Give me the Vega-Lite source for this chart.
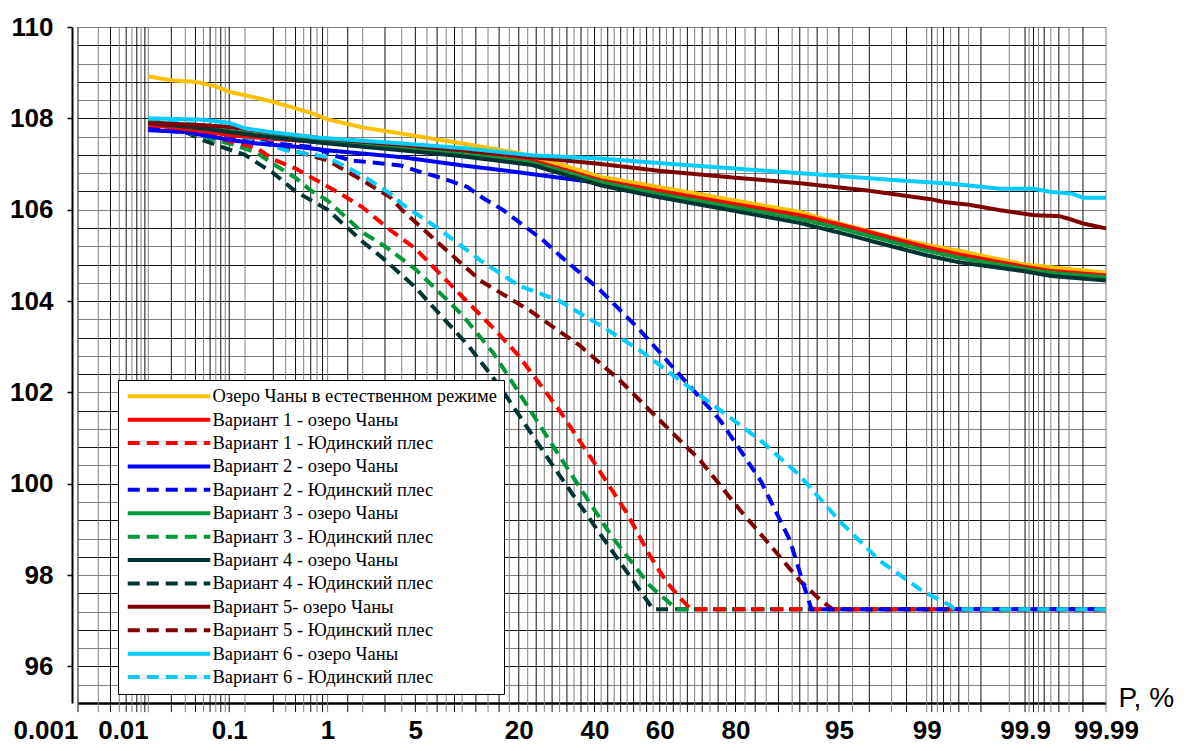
{
  "$schema": "https://vega.github.io/schema/vega-lite/v6.json",
  "width": 1028,
  "height": 676,
  "autosize": {"type": "none"},
  "padding": {"left": 78, "top": 27, "right": 81, "bottom": 48},
  "config": {"view": {"stroke": null}, "font": "Liberation Sans"},
  "datasets": {
    "gridDark": [
      {"P": 0.001}, {"P": 0.003}, {"P": 0.005}, {"P": 0.007}, {"P": 0.009},
      {"P": 0.02}, {"P": 0.04}, {"P": 0.06}, {"P": 0.08}, {"P": 0.1},
      {"P": 0.3}, {"P": 0.5}, {"P": 0.7}, {"P": 0.9}, {"P": 1.5}, {"P": 3}, {"P": 5}, {"P": 7}, {"P": 9},
      {"P": 12}, {"P": 16}, {"P": 20}, {"P": 24}, {"P": 28}, {"P": 32}, {"P": 36}, {"P": 40}, {"P": 44}, {"P": 48},
      {"P": 52}, {"P": 56}, {"P": 60}, {"P": 64}, {"P": 68}, {"P": 72}, {"P": 76}, {"P": 80}, {"P": 84}, {"P": 88},
      {"P": 91}, {"P": 93}, {"P": 95}, {"P": 97}, {"P": 98.5},
      {"P": 99.1}, {"P": 99.3}, {"P": 99.5}, {"P": 99.7}, {"P": 99.9},
      {"P": 99.92}, {"P": 99.94}, {"P": 99.96}, {"P": 99.98}
    ],
    "gridLight": [
      {"P": 0.002}, {"P": 0.004}, {"P": 0.006}, {"P": 0.008}, {"P": 0.01},
      {"P": 0.03}, {"P": 0.05}, {"P": 0.07}, {"P": 0.09}, {"P": 0.15},
      {"P": 0.4}, {"P": 0.6}, {"P": 0.8}, {"P": 1}, {"P": 2}, {"P": 4}, {"P": 6}, {"P": 8}, {"P": 10},
      {"P": 14}, {"P": 18}, {"P": 22}, {"P": 26}, {"P": 30}, {"P": 34}, {"P": 38}, {"P": 42}, {"P": 46}, {"P": 50},
      {"P": 54}, {"P": 58}, {"P": 62}, {"P": 66}, {"P": 70}, {"P": 74}, {"P": 78}, {"P": 82}, {"P": 86}, {"P": 90},
      {"P": 92}, {"P": 94}, {"P": 96}, {"P": 98}, {"P": 99},
      {"P": 99.2}, {"P": 99.4}, {"P": 99.6}, {"P": 99.85},
      {"P": 99.91}, {"P": 99.93}, {"P": 99.95}, {"P": 99.97}, {"P": 99.99}
    ],
    "levels": [
      {"s": "Вариант 4 - Юдинский плес", "P": 0.01, "H": 107.85},
      {"s": "Вариант 4 - Юдинский плес", "P": 0.03, "H": 107.7},
      {"s": "Вариант 4 - Юдинский плес", "P": 0.05, "H": 107.52},
      {"s": "Вариант 4 - Юдинский плес", "P": 0.08, "H": 107.38},
      {"s": "Вариант 4 - Юдинский плес", "P": 0.15, "H": 107.2},
      {"s": "Вариант 4 - Юдинский плес", "P": 0.3, "H": 106.8},
      {"s": "Вариант 4 - Юдинский плес", "P": 0.5, "H": 106.4},
      {"s": "Вариант 4 - Юдинский плес", "P": 1, "H": 106.0},
      {"s": "Вариант 4 - Юдинский плес", "P": 2, "H": 105.3},
      {"s": "Вариант 4 - Юдинский плес", "P": 3, "H": 104.9},
      {"s": "Вариант 4 - Юдинский плес", "P": 5, "H": 104.3},
      {"s": "Вариант 4 - Юдинский плес", "P": 11, "H": 103.0},
      {"s": "Вариант 4 - Юдинский плес", "P": 16, "H": 102.15},
      {"s": "Вариант 4 - Юдинский плес", "P": 29, "H": 100.3},
      {"s": "Вариант 4 - Юдинский плес", "P": 42, "H": 98.87},
      {"s": "Вариант 4 - Юдинский плес", "P": 54, "H": 97.66},
      {"s": "Вариант 4 - Юдинский плес", "P": 58, "H": 97.25},
      {"s": "Вариант 4 - Юдинский плес", "P": 99.99, "H": 97.25},

      {"s": "Вариант 3 - Юдинский плес", "P": 0.01, "H": 107.9},
      {"s": "Вариант 3 - Юдинский плес", "P": 0.05, "H": 107.6},
      {"s": "Вариант 3 - Юдинский плес", "P": 0.1, "H": 107.45},
      {"s": "Вариант 3 - Юдинский плес", "P": 0.2, "H": 107.25},
      {"s": "Вариант 3 - Юдинский плес", "P": 0.3, "H": 107.0},
      {"s": "Вариант 3 - Юдинский плес", "P": 0.5, "H": 106.7},
      {"s": "Вариант 3 - Юдинский плес", "P": 0.7, "H": 106.42},
      {"s": "Вариант 3 - Юдинский плес", "P": 1, "H": 106.2},
      {"s": "Вариант 3 - Юдинский плес", "P": 2, "H": 105.5},
      {"s": "Вариант 3 - Юдинский плес", "P": 3, "H": 105.2},
      {"s": "Вариант 3 - Юдинский плес", "P": 5, "H": 104.7},
      {"s": "Вариант 3 - Юдинский плес", "P": 10, "H": 103.7},
      {"s": "Вариант 3 - Юдинский плес", "P": 15, "H": 102.85},
      {"s": "Вариант 3 - Юдинский плес", "P": 20, "H": 102.0},
      {"s": "Вариант 3 - Юдинский плес", "P": 30, "H": 100.6},
      {"s": "Вариант 3 - Юдинский плес", "P": 45, "H": 98.87},
      {"s": "Вариант 3 - Юдинский плес", "P": 57, "H": 97.77},
      {"s": "Вариант 3 - Юдинский плес", "P": 62, "H": 97.45},
      {"s": "Вариант 3 - Юдинский плес", "P": 65, "H": 97.25},
      {"s": "Вариант 3 - Юдинский плес", "P": 99.99, "H": 97.25},

      {"s": "Вариант 1 - Юдинский плес", "P": 0.01, "H": 107.85},
      {"s": "Вариант 1 - Юдинский плес", "P": 0.05, "H": 107.68},
      {"s": "Вариант 1 - Юдинский плес", "P": 0.1, "H": 107.5},
      {"s": "Вариант 1 - Юдинский плес", "P": 0.2, "H": 107.35},
      {"s": "Вариант 1 - Юдинский плес", "P": 0.3, "H": 107.1},
      {"s": "Вариант 1 - Юдинский плес", "P": 0.5, "H": 106.9},
      {"s": "Вариант 1 - Юдинский плес", "P": 0.8, "H": 106.64},
      {"s": "Вариант 1 - Юдинский плес", "P": 1.3, "H": 106.35},
      {"s": "Вариант 1 - Юдинский плес", "P": 2, "H": 106.05},
      {"s": "Вариант 1 - Юдинский плес", "P": 3.3, "H": 105.55},
      {"s": "Вариант 1 - Юдинский плес", "P": 5, "H": 105.15},
      {"s": "Вариант 1 - Юдинский плес", "P": 10, "H": 104.1},
      {"s": "Вариант 1 - Юдинский плес", "P": 15, "H": 103.4},
      {"s": "Вариант 1 - Юдинский плес", "P": 20, "H": 102.8},
      {"s": "Вариант 1 - Юдинский плес", "P": 30, "H": 101.6},
      {"s": "Вариант 1 - Юдинский плес", "P": 40, "H": 100.45},
      {"s": "Вариант 1 - Юдинский плес", "P": 50, "H": 99.35},
      {"s": "Вариант 1 - Юдинский плес", "P": 57, "H": 98.43},
      {"s": "Вариант 1 - Юдинский плес", "P": 62, "H": 97.85},
      {"s": "Вариант 1 - Юдинский плес", "P": 66, "H": 97.5},
      {"s": "Вариант 1 - Юдинский плес", "P": 69, "H": 97.25},
      {"s": "Вариант 1 - Юдинский плес", "P": 99.99, "H": 97.25},

      {"s": "Вариант 5 - Юдинский плес", "P": 0.01, "H": 107.85},
      {"s": "Вариант 5 - Юдинский плес", "P": 0.1, "H": 107.65},
      {"s": "Вариант 5 - Юдинский плес", "P": 0.2, "H": 107.6},
      {"s": "Вариант 5 - Юдинский плес", "P": 0.3, "H": 107.4},
      {"s": "Вариант 5 - Юдинский плес", "P": 0.5, "H": 107.28},
      {"s": "Вариант 5 - Юдинский плес", "P": 1, "H": 107.08},
      {"s": "Вариант 5 - Юдинский плес", "P": 2, "H": 106.64},
      {"s": "Вариант 5 - Юдинский плес", "P": 3.3, "H": 106.27},
      {"s": "Вариант 5 - Юдинский плес", "P": 4, "H": 106.0},
      {"s": "Вариант 5 - Юдинский плес", "P": 7, "H": 105.3},
      {"s": "Вариант 5 - Юдинский плес", "P": 12.7, "H": 104.45},
      {"s": "Вариант 5 - Юдинский плес", "P": 22.5, "H": 103.79},
      {"s": "Вариант 5 - Юдинский плес", "P": 35.6, "H": 103.03},
      {"s": "Вариант 5 - Юдинский плес", "P": 47.8, "H": 102.26},
      {"s": "Вариант 5 - Юдинский плес", "P": 60, "H": 101.39},
      {"s": "Вариант 5 - Юдинский плес", "P": 71.5, "H": 100.51},
      {"s": "Вариант 5 - Юдинский плес", "P": 81, "H": 99.42},
      {"s": "Вариант 5 - Юдинский плес", "P": 86.7, "H": 98.65},
      {"s": "Вариант 5 - Юдинский плес", "P": 91, "H": 97.88},
      {"s": "Вариант 5 - Юдинский плес", "P": 93.4, "H": 97.44},
      {"s": "Вариант 5 - Юдинский плес", "P": 94.5, "H": 97.25},
      {"s": "Вариант 5 - Юдинский плес", "P": 99.99, "H": 97.25},

      {"s": "Вариант 2 - Юдинский плес", "P": 0.01, "H": 107.78},
      {"s": "Вариант 2 - Юдинский плес", "P": 0.05, "H": 107.65},
      {"s": "Вариант 2 - Юдинский плес", "P": 0.1, "H": 107.55},
      {"s": "Вариант 2 - Юдинский плес", "P": 0.3, "H": 107.45},
      {"s": "Вариант 2 - Юдинский плес", "P": 0.74, "H": 107.37},
      {"s": "Вариант 2 - Юдинский плес", "P": 1.13, "H": 107.19},
      {"s": "Вариант 2 - Юдинский плес", "P": 1.6, "H": 107.08},
      {"s": "Вариант 2 - Юдинский плес", "P": 3.9, "H": 106.97},
      {"s": "Вариант 2 - Юдинский плес", "P": 5.4, "H": 106.83},
      {"s": "Вариант 2 - Юдинский плес", "P": 7.7, "H": 106.68},
      {"s": "Вариант 2 - Юдинский плес", "P": 10.7, "H": 106.5},
      {"s": "Вариант 2 - Юдинский плес", "P": 13.2, "H": 106.25},
      {"s": "Вариант 2 - Юдинский плес", "P": 16.8, "H": 105.99},
      {"s": "Вариант 2 - Юдинский плес", "P": 21, "H": 105.66},
      {"s": "Вариант 2 - Юдинский плес", "P": 25.7, "H": 105.33},
      {"s": "Вариант 2 - Юдинский плес", "P": 30, "H": 105.0},
      {"s": "Вариант 2 - Юдинский плес", "P": 41.7, "H": 104.24},
      {"s": "Вариант 2 - Юдинский плес", "P": 54, "H": 103.36},
      {"s": "Вариант 2 - Юдинский плес", "P": 66, "H": 102.37},
      {"s": "Вариант 2 - Юдинский плес", "P": 76.5, "H": 101.39},
      {"s": "Вариант 2 - Юдинский плес", "P": 85, "H": 100.07},
      {"s": "Вариант 2 - Юдинский плес", "P": 89.7, "H": 98.76},
      {"s": "Вариант 2 - Юдинский плес", "P": 91.7, "H": 97.66},
      {"s": "Вариант 2 - Юдинский плес", "P": 92.4, "H": 97.25},
      {"s": "Вариант 2 - Юдинский плес", "P": 99.99, "H": 97.25},

      {"s": "Вариант 6 - Юдинский плес", "P": 0.01, "H": 107.95},
      {"s": "Вариант 6 - Юдинский плес", "P": 0.05, "H": 107.85},
      {"s": "Вариант 6 - Юдинский плес", "P": 0.08, "H": 107.78},
      {"s": "Вариант 6 - Юдинский плес", "P": 0.11, "H": 107.67},
      {"s": "Вариант 6 - Юдинский плес", "P": 0.15, "H": 107.59},
      {"s": "Вариант 6 - Юдинский плес", "P": 0.4, "H": 107.3},
      {"s": "Вариант 6 - Юдинский плес", "P": 1, "H": 107.15},
      {"s": "Вариант 6 - Юдинский плес", "P": 1.3, "H": 107.0},
      {"s": "Вариант 6 - Юдинский плес", "P": 2, "H": 106.75},
      {"s": "Вариант 6 - Юдинский плес", "P": 3.3, "H": 106.35},
      {"s": "Вариант 6 - Юдинский плес", "P": 4, "H": 106.13},
      {"s": "Вариант 6 - Юдинский плес", "P": 7.4, "H": 105.55},
      {"s": "Вариант 6 - Юдинский плес", "P": 12.7, "H": 104.89},
      {"s": "Вариант 6 - Юдинский плес", "P": 20, "H": 104.34},
      {"s": "Вариант 6 - Юдинский плес", "P": 30, "H": 104.0},
      {"s": "Вариант 6 - Юдинский плес", "P": 41.7, "H": 103.47},
      {"s": "Вариант 6 - Юдинский плес", "P": 54, "H": 102.92},
      {"s": "Вариант 6 - Юдинский плес", "P": 66, "H": 102.26},
      {"s": "Вариант 6 - Юдинский плес", "P": 76.5, "H": 101.61},
      {"s": "Вариант 6 - Юдинский плес", "P": 85, "H": 100.95},
      {"s": "Вариант 6 - Юдинский плес", "P": 91, "H": 100.18},
      {"s": "Вариант 6 - Юдинский плес", "P": 95, "H": 99.2},
      {"s": "Вариант 6 - Юдинский плес", "P": 97.5, "H": 98.32},
      {"s": "Вариант 6 - Юдинский плес", "P": 98.9, "H": 97.66},
      {"s": "Вариант 6 - Юдинский плес", "P": 99.4, "H": 97.33},
      {"s": "Вариант 6 - Юдинский плес", "P": 99.45, "H": 97.25},
      {"s": "Вариант 6 - Юдинский плес", "P": 99.99, "H": 97.25},

      {"s": "Озеро Чаны в естественном режиме", "P": 0.01, "H": 108.92},
      {"s": "Озеро Чаны в естественном режиме", "P": 0.02, "H": 108.83},
      {"s": "Озеро Чаны в естественном режиме", "P": 0.04, "H": 108.8},
      {"s": "Озеро Чаны в естественном режиме", "P": 0.07, "H": 108.7},
      {"s": "Озеро Чаны в естественном режиме", "P": 0.1, "H": 108.58},
      {"s": "Озеро Чаны в естественном режиме", "P": 0.2, "H": 108.45},
      {"s": "Озеро Чаны в естественном режиме", "P": 0.3, "H": 108.36},
      {"s": "Озеро Чаны в естественном режиме", "P": 0.5, "H": 108.22},
      {"s": "Озеро Чаны в естественном режиме", "P": 0.7, "H": 108.12},
      {"s": "Озеро Чаны в естественном режиме", "P": 1, "H": 107.98},
      {"s": "Озеро Чаны в естественном режиме", "P": 2, "H": 107.8},
      {"s": "Озеро Чаны в естественном режиме", "P": 3.9, "H": 107.67},
      {"s": "Озеро Чаны в естественном режиме", "P": 10, "H": 107.45},
      {"s": "Озеро Чаны в естественном режиме", "P": 20, "H": 107.24},
      {"s": "Озеро Чаны в естественном режиме", "P": 30, "H": 107.0},
      {"s": "Озеро Чаны в естественном режиме", "P": 41.7, "H": 106.72},
      {"s": "Озеро Чаны в естественном режиме", "P": 50, "H": 106.62},
      {"s": "Озеро Чаны в естественном режиме", "P": 60, "H": 106.49},
      {"s": "Озеро Чаны в естественном режиме", "P": 70, "H": 106.36},
      {"s": "Озеро Чаны в естественном режиме", "P": 80, "H": 106.2},
      {"s": "Озеро Чаны в естественном режиме", "P": 91, "H": 105.95},
      {"s": "Озеро Чаны в естественном режиме", "P": 95, "H": 105.7},
      {"s": "Озеро Чаны в естественном режиме", "P": 98, "H": 105.4},
      {"s": "Озеро Чаны в естественном режиме", "P": 99, "H": 105.23},
      {"s": "Озеро Чаны в естественном режиме", "P": 99.5, "H": 105.1},
      {"s": "Озеро Чаны в естественном режиме", "P": 99.9, "H": 104.8},
      {"s": "Озеро Чаны в естественном режиме", "P": 99.99, "H": 104.62},

      {"s": "Вариант 2 - озеро Чаны", "P": 0.01, "H": 107.74},
      {"s": "Вариант 2 - озеро Чаны", "P": 0.03, "H": 107.7},
      {"s": "Вариант 2 - озеро Чаны", "P": 0.05, "H": 107.63},
      {"s": "Вариант 2 - озеро Чаны", "P": 0.1, "H": 107.53},
      {"s": "Вариант 2 - озеро Чаны", "P": 0.2, "H": 107.45},
      {"s": "Вариант 2 - озеро Чаны", "P": 0.5, "H": 107.38},
      {"s": "Вариант 2 - озеро Чаны", "P": 1, "H": 107.3},
      {"s": "Вариант 2 - озеро Чаны", "P": 4, "H": 107.15},
      {"s": "Вариант 2 - озеро Чаны", "P": 10, "H": 106.97},
      {"s": "Вариант 2 - озеро Чаны", "P": 17, "H": 106.86},
      {"s": "Вариант 2 - озеро Чаны", "P": 42, "H": 106.58},
      {"s": "Вариант 2 - озеро Чаны", "P": 60, "H": 106.36},
      {"s": "Вариант 2 - озеро Чаны", "P": 80, "H": 106.08},
      {"s": "Вариант 2 - озеро Чаны", "P": 91, "H": 105.85},
      {"s": "Вариант 2 - озеро Чаны", "P": 95, "H": 105.66},
      {"s": "Вариант 2 - озеро Чаны", "P": 98, "H": 105.35},
      {"s": "Вариант 2 - озеро Чаны", "P": 99, "H": 105.12},
      {"s": "Вариант 2 - озеро Чаны", "P": 99.5, "H": 104.97},
      {"s": "Вариант 2 - озеро Чаны", "P": 99.9, "H": 104.7},
      {"s": "Вариант 2 - озеро Чаны", "P": 99.95, "H": 104.6},
      {"s": "Вариант 2 - озеро Чаны", "P": 99.99, "H": 104.48},

      {"s": "Вариант 1 - озеро Чаны", "P": 0.01, "H": 107.86},
      {"s": "Вариант 1 - озеро Чаны", "P": 0.05, "H": 107.72},
      {"s": "Вариант 1 - озеро Чаны", "P": 0.1, "H": 107.63},
      {"s": "Вариант 1 - озеро Чаны", "P": 0.3, "H": 107.55},
      {"s": "Вариант 1 - озеро Чаны", "P": 1, "H": 107.47},
      {"s": "Вариант 1 - озеро Чаны", "P": 4, "H": 107.38},
      {"s": "Вариант 1 - озеро Чаны", "P": 10, "H": 107.28},
      {"s": "Вариант 1 - озеро Чаны", "P": 23, "H": 107.08},
      {"s": "Вариант 1 - озеро Чаны", "P": 42, "H": 106.64},
      {"s": "Вариант 1 - озеро Чаны", "P": 60, "H": 106.41},
      {"s": "Вариант 1 - озеро Чаны", "P": 80, "H": 106.12},
      {"s": "Вариант 1 - озеро Чаны", "P": 91, "H": 105.88},
      {"s": "Вариант 1 - озеро Чаны", "P": 95, "H": 105.68},
      {"s": "Вариант 1 - озеро Чаны", "P": 98, "H": 105.38},
      {"s": "Вариант 1 - озеро Чаны", "P": 99, "H": 105.18},
      {"s": "Вариант 1 - озеро Чаны", "P": 99.5, "H": 105.02},
      {"s": "Вариант 1 - озеро Чаны", "P": 99.9, "H": 104.75},
      {"s": "Вариант 1 - озеро Чаны", "P": 99.95, "H": 104.66},
      {"s": "Вариант 1 - озеро Чаны", "P": 99.99, "H": 104.56},

      {"s": "Вариант 3 - озеро Чаны", "P": 0.01, "H": 107.93},
      {"s": "Вариант 3 - озеро Чаны", "P": 0.05, "H": 107.8},
      {"s": "Вариант 3 - озеро Чаны", "P": 0.1, "H": 107.72},
      {"s": "Вариант 3 - озеро Чаны", "P": 0.3, "H": 107.6},
      {"s": "Вариант 3 - озеро Чаны", "P": 1, "H": 107.5},
      {"s": "Вариант 3 - озеро Чаны", "P": 4, "H": 107.34},
      {"s": "Вариант 3 - озеро Чаны", "P": 10, "H": 107.22},
      {"s": "Вариант 3 - озеро Чаны", "P": 23, "H": 107.03},
      {"s": "Вариант 3 - озеро Чаны", "P": 42, "H": 106.6},
      {"s": "Вариант 3 - озеро Чаны", "P": 60, "H": 106.34},
      {"s": "Вариант 3 - озеро Чаны", "P": 80, "H": 106.05},
      {"s": "Вариант 3 - озеро Чаны", "P": 91, "H": 105.8},
      {"s": "Вариант 3 - озеро Чаны", "P": 95, "H": 105.6},
      {"s": "Вариант 3 - озеро Чаны", "P": 98, "H": 105.3},
      {"s": "Вариант 3 - озеро Чаны", "P": 99, "H": 105.1},
      {"s": "Вариант 3 - озеро Чаны", "P": 99.5, "H": 104.95},
      {"s": "Вариант 3 - озеро Чаны", "P": 99.9, "H": 104.7},
      {"s": "Вариант 3 - озеро Чаны", "P": 99.95, "H": 104.62},
      {"s": "Вариант 3 - озеро Чаны", "P": 99.99, "H": 104.52},

      {"s": "Вариант 4 - озеро Чаны", "P": 0.01, "H": 107.9},
      {"s": "Вариант 4 - озеро Чаны", "P": 0.05, "H": 107.78},
      {"s": "Вариант 4 - озеро Чаны", "P": 0.1, "H": 107.7},
      {"s": "Вариант 4 - озеро Чаны", "P": 0.3, "H": 107.58},
      {"s": "Вариант 4 - озеро Чаны", "P": 1, "H": 107.45},
      {"s": "Вариант 4 - озеро Чаны", "P": 4, "H": 107.3},
      {"s": "Вариант 4 - озеро Чаны", "P": 10, "H": 107.17},
      {"s": "Вариант 4 - озеро Чаны", "P": 23, "H": 106.98},
      {"s": "Вариант 4 - озеро Чаны", "P": 42, "H": 106.53},
      {"s": "Вариант 4 - озеро Чаны", "P": 60, "H": 106.27},
      {"s": "Вариант 4 - озеро Чаны", "P": 80, "H": 105.97},
      {"s": "Вариант 4 - озеро Чаны", "P": 91, "H": 105.71},
      {"s": "Вариант 4 - озеро Чаны", "P": 95, "H": 105.5},
      {"s": "Вариант 4 - озеро Чаны", "P": 98, "H": 105.2},
      {"s": "Вариант 4 - озеро Чаны", "P": 99, "H": 105.0},
      {"s": "Вариант 4 - озеро Чаны", "P": 99.5, "H": 104.85},
      {"s": "Вариант 4 - озеро Чаны", "P": 99.9, "H": 104.65},
      {"s": "Вариант 4 - озеро Чаны", "P": 99.95, "H": 104.55},
      {"s": "Вариант 4 - озеро Чаны", "P": 99.99, "H": 104.45},

      {"s": "Вариант 5- озеро Чаны", "P": 0.01, "H": 107.9},
      {"s": "Вариант 5- озеро Чаны", "P": 0.05, "H": 107.85},
      {"s": "Вариант 5- озеро Чаны", "P": 0.1, "H": 107.81},
      {"s": "Вариант 5- озеро Чаны", "P": 0.3, "H": 107.68},
      {"s": "Вариант 5- озеро Чаны", "P": 1, "H": 107.55},
      {"s": "Вариант 5- озеро Чаны", "P": 4, "H": 107.42},
      {"s": "Вариант 5- озеро Чаны", "P": 10, "H": 107.3},
      {"s": "Вариант 5- озеро Чаны", "P": 23, "H": 107.15},
      {"s": "Вариант 5- озеро Чаны", "P": 42, "H": 107.0},
      {"s": "Вариант 5- озеро Чаны", "P": 60, "H": 106.85},
      {"s": "Вариант 5- озеро Чаны", "P": 80, "H": 106.7},
      {"s": "Вариант 5- озеро Чаны", "P": 91, "H": 106.58},
      {"s": "Вариант 5- озеро Чаны", "P": 96.9, "H": 106.42},
      {"s": "Вариант 5- озеро Чаны", "P": 99.13, "H": 106.22},
      {"s": "Вариант 5- озеро Чаны", "P": 99.3, "H": 106.17},
      {"s": "Вариант 5- озеро Чаны", "P": 99.6, "H": 106.11},
      {"s": "Вариант 5- озеро Чаны", "P": 99.81, "H": 105.99},
      {"s": "Вариант 5- озеро Чаны", "P": 99.92, "H": 105.88},
      {"s": "Вариант 5- озеро Чаны", "P": 99.96, "H": 105.86},
      {"s": "Вариант 5- озеро Чаны", "P": 99.97, "H": 105.8},
      {"s": "Вариант 5- озеро Чаны", "P": 99.98, "H": 105.7},
      {"s": "Вариант 5- озеро Чаны", "P": 99.99, "H": 105.59},

      {"s": "Вариант 6 - озеро Чаны", "P": 0.01, "H": 108.0},
      {"s": "Вариант 6 - озеро Чаны", "P": 0.05, "H": 107.97},
      {"s": "Вариант 6 - озеро Чаны", "P": 0.1, "H": 107.9},
      {"s": "Вариант 6 - озеро Чаны", "P": 0.15, "H": 107.78},
      {"s": "Вариант 6 - озеро Чаны", "P": 0.3, "H": 107.69},
      {"s": "Вариант 6 - озеро Чаны", "P": 0.8, "H": 107.58},
      {"s": "Вариант 6 - озеро Чаны", "P": 4, "H": 107.45},
      {"s": "Вариант 6 - озеро Чаны", "P": 10, "H": 107.35},
      {"s": "Вариант 6 - озеро Чаны", "P": 23, "H": 107.19},
      {"s": "Вариант 6 - озеро Чаны", "P": 42, "H": 107.12},
      {"s": "Вариант 6 - озеро Чаны", "P": 60, "H": 107.02},
      {"s": "Вариант 6 - озеро Чаны", "P": 80, "H": 106.9},
      {"s": "Вариант 6 - озеро Чаны", "P": 91, "H": 106.8},
      {"s": "Вариант 6 - озеро Чаны", "P": 98.3, "H": 106.64},
      {"s": "Вариант 6 - озеро Чаны", "P": 99.4, "H": 106.57},
      {"s": "Вариант 6 - озеро Чаны", "P": 99.81, "H": 106.46},
      {"s": "Вариант 6 - озеро Чаны", "P": 99.92, "H": 106.46},
      {"s": "Вариант 6 - озеро Чаны", "P": 99.95, "H": 106.39},
      {"s": "Вариант 6 - озеро Чаны", "P": 99.973, "H": 106.35},
      {"s": "Вариант 6 - озеро Чаны", "P": 99.98, "H": 106.26},
      {"s": "Вариант 6 - озеро Чаны", "P": 99.99, "H": 106.26}
    ]
  },
  "layer": [
    {
      "data": {"name": "gridLight"},
      "transform": [{"calculate": "quantileNormal(datum.P / 100)", "as": "z"}],
      "mark": {"type": "rule", "color": "#808080", "strokeWidth": 1},
      "encoding": {
        "x": {"field": "z", "type": "quantitative",
              "scale": {"domain": [{"expr": "quantileNormal(0.00001)"}, {"expr": "quantileNormal(0.9999)"}], "nice": false, "zero": false}},
        "y": {"datum": 95.0, "type": "quantitative", "scale": {"domain": [95.2, 110], "nice": false, "zero": false}},
        "y2": {"datum": 110}
      }
    },
    {
      "data": {"name": "gridDark"},
      "transform": [{"calculate": "quantileNormal(datum.P / 100)", "as": "z"}],
      "mark": {"type": "rule", "color": "#111111", "strokeWidth": 1},
      "encoding": {
        "x": {"field": "z", "type": "quantitative",
              "scale": {"domain": [{"expr": "quantileNormal(0.00001)"}, {"expr": "quantileNormal(0.9999)"}], "nice": false, "zero": false}},
        "y": {"datum": 95.0, "type": "quantitative", "scale": {"domain": [95.2, 110], "nice": false, "zero": false}},
        "y2": {"datum": 110}
      }
    },
    {
      "data": {"name": "levels"},
      "transform": [{"calculate": "quantileNormal(datum.P / 100)", "as": "z"}],
      "mark": {"type": "line", "strokeWidth": 4, "strokeCap": "butt", "strokeJoin": "round"},
      "encoding": {
        "x": {
          "field": "z", "type": "quantitative",
          "scale": {"domain": [{"expr": "quantileNormal(0.00001)"}, {"expr": "quantileNormal(0.9999)"}], "nice": false, "zero": false},
          "axis": {
            "values": {"expr": "[quantileNormal(0.00001), quantileNormal(0.0001), quantileNormal(0.001), quantileNormal(0.01), quantileNormal(0.05), quantileNormal(0.2), quantileNormal(0.4), quantileNormal(0.6), quantileNormal(0.8), quantileNormal(0.95), quantileNormal(0.99), quantileNormal(0.999), quantileNormal(0.9999)]"},
            "tickCount": 100,
            "labelExpr": "format(cumulativeNormal(datum.value) * 100, '.4~r')",
            "grid": false,
            "ticks": false,
            "domainColor": "#000000",
            "domainWidth": 2.5,
            "labelFont": "Liberation Sans",
            "labelFontSize": 26,
            "labelFontWeight": "bold",
            "labelColor": "#000000",
            "labelPadding": 14,
            "labelOverlap": false,
            "labelFlush": false,
            "labelAlign": {"condition": {"test": "datum.value < -3.5", "value": "right"}, "value": "center"},
            "title": "P, %",
            "titleFont": "Liberation Sans",
            "titleFontSize": 28,
            "titleFontWeight": "normal",
            "titleColor": "#000000",
            "titleAngle": 0,
            "titleAlign": "left",
            "titleBaseline": "alphabetic",
            "titleX": 1040,
            "titleY": 3
          }
        },
        "y": {
          "field": "H", "type": "quantitative",
          "scale": {"domain": [95.2, 110], "nice": false, "zero": false},
          "axis": {
            "values": [95.6, 96, 96.4, 96.8, 97.2, 97.6, 98, 98.4, 98.8, 99.2, 99.6, 100, 100.4, 100.8, 101.2, 101.6, 102, 102.4, 102.8, 103.2, 103.6, 104, 104.4, 104.8, 105.2, 105.6, 106, 106.4, 106.8, 107.2, 107.6, 108, 108.4, 108.8, 109.2, 109.6, 110],
            "tickCount": 100,
            "labelExpr": "datum.value % 2 === 0 ? format(datum.value, 'd') : ''",
            "grid": true,
            "gridColor": {"condition": {"test": "round(datum.value * 2.5) % 2 === 0", "value": "#111111"}, "value": "#808080"},
            "gridWidth": 1,
            "tickOpacity": {"condition": {"test": "datum.value % 2 === 0", "value": 1}, "value": 0},
            "tickColor": "#000000",
            "tickSize": 5,
            "tickWidth": 1.5,
            "offset": 6,
            "domainColor": "#000000",
            "domainWidth": 2,
            "labelFont": "Liberation Sans",
            "labelFontSize": 26,
            "labelFontWeight": "bold",
            "labelColor": "#000000",
            "labelPadding": 14,
            "labelOverlap": false,
            "title": null
          }
        },
        "color": {
          "field": "s", "type": "nominal",
          "scale": {
            "domain": ["Озеро Чаны в естественном режиме", "Вариант 1 - озеро Чаны", "Вариант 1 - Юдинский плес", "Вариант 2 - озеро Чаны", "Вариант 2 - Юдинский плес", "Вариант 3 - озеро Чаны", "Вариант 3 - Юдинский плес", "Вариант 4 - озеро Чаны", "Вариант 4 - Юдинский плес", "Вариант 5- озеро Чаны", "Вариант 5 - Юдинский плес", "Вариант 6 - озеро Чаны", "Вариант 6 - Юдинский плес"],
            "range": ["#ffc000", "#ff0000", "#ff0000", "#0000ff", "#0000ff", "#00993a", "#00993a", "#003333", "#003333", "#800000", "#800000", "#00ccff", "#00ccff"]
          },
          "legend": {
            "orient": "none",
            "legendX": 40,
            "legendY": 353,
            "title": null,
            "symbolType": "M-1.3,0H15.2",
            "symbolSize": 100,
            "symbolStrokeWidth": 4,
            "labelOffset": 69,
            "labelFont": "Liberation Serif",
            "labelFontSize": 18.5,
            "labelColor": "#000000",
            "labelLimit": 400,
            "rowPadding": 4.4,
            "fillColor": "#ffffff",
            "strokeColor": "#000000",
            "padding": 7
          }
        },
        "strokeDash": {
          "field": "s", "type": "nominal",
          "scale": {
            "domain": ["Озеро Чаны в естественном режиме", "Вариант 1 - озеро Чаны", "Вариант 1 - Юдинский плес", "Вариант 2 - озеро Чаны", "Вариант 2 - Юдинский плес", "Вариант 3 - озеро Чаны", "Вариант 3 - Юдинский плес", "Вариант 4 - озеро Чаны", "Вариант 4 - Юдинский плес", "Вариант 5- озеро Чаны", "Вариант 5 - Юдинский плес", "Вариант 6 - озеро Чаны", "Вариант 6 - Юдинский плес"],
            "range": [[1, 0], [1, 0], [12, 7], [1, 0], [12, 7], [1, 0], [12, 7], [1, 0], [12, 7], [1, 0], [12, 7], [1, 0], [12, 7]]
          }
        }
      }
    }
  ]
}
